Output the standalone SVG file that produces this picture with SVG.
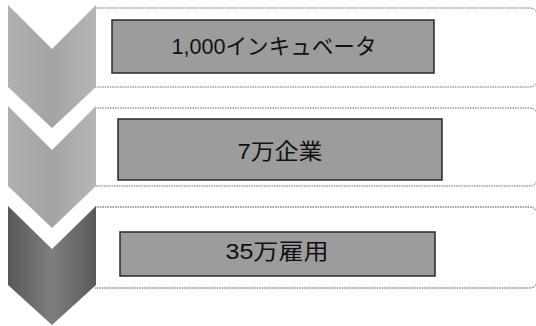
<svg xmlns="http://www.w3.org/2000/svg" width="536" height="326" viewBox="0 0 536 326">
<defs>
<linearGradient id="gLight" x1="0" y1="0" x2="1" y2="0">
<stop offset="0" stop-color="#b0b0b0"/><stop offset="0.5" stop-color="#a4a4a4"/><stop offset="1" stop-color="#b6b6b6"/>
</linearGradient>
<linearGradient id="gDark" x1="0" y1="0" x2="1" y2="0">
<stop offset="0" stop-color="#585858"/><stop offset="0.5" stop-color="#7e7e7e"/><stop offset="1" stop-color="#5a5a5a"/>
</linearGradient>
</defs>
<style>
.band{fill:#ffffff;stroke:#6a6a6a;stroke-width:1;stroke-dasharray:1.5 1}
.box{fill:#9c9c9c;stroke:#2a2a2a;stroke-width:1.5}
.lbl{font-family:"Liberation Sans","Noto Sans CJK JP",sans-serif;font-size:22px;fill:#111;text-anchor:middle}
</style>
<rect width="536" height="326" fill="#ffffff"/>
<g id="step1">
<path class="band" d="M95,8 H529 Q537,8 537,16 V79 Q537,87 529,87 H95"/>
<polygon points="8,5 52,49 96,5 96,87 52,128 8,87" fill="url(#gLight)"/>
<rect class="box" x="112" y="20" width="322" height="53"/>
<text class="lbl" x="274" y="54" textLength="205" lengthAdjust="spacingAndGlyphs">1,000インキュベータ</text>
</g>
<g id="step2">
<path class="band" d="M95,108 H529 Q537,108 537,116 V178 Q537,186 529,186 H95"/>
<polygon points="8,106 52,150 96,106 96,186 52,228 8,186" fill="url(#gLight)"/>
<rect class="box" x="118" y="119" width="324" height="61"/>
<text class="lbl" x="280" y="159" textLength="85" lengthAdjust="spacingAndGlyphs">7万企業</text>
</g>
<g id="step3">
<path class="band" d="M95,207 H529 Q537,207 537,215 V280 Q537,288 529,288 H95" style="stroke:#4a4a4a"/>
<polygon points="8,206 52,249 96,206 96,285 52,325 8,285" fill="url(#gDark)"/>
<rect class="box" x="120" y="232" width="315" height="44"/>
<text class="lbl" x="277" y="259" textLength="103" lengthAdjust="spacingAndGlyphs">35万雇用</text>
</g>
<g id="connectors"></g>
</svg>
